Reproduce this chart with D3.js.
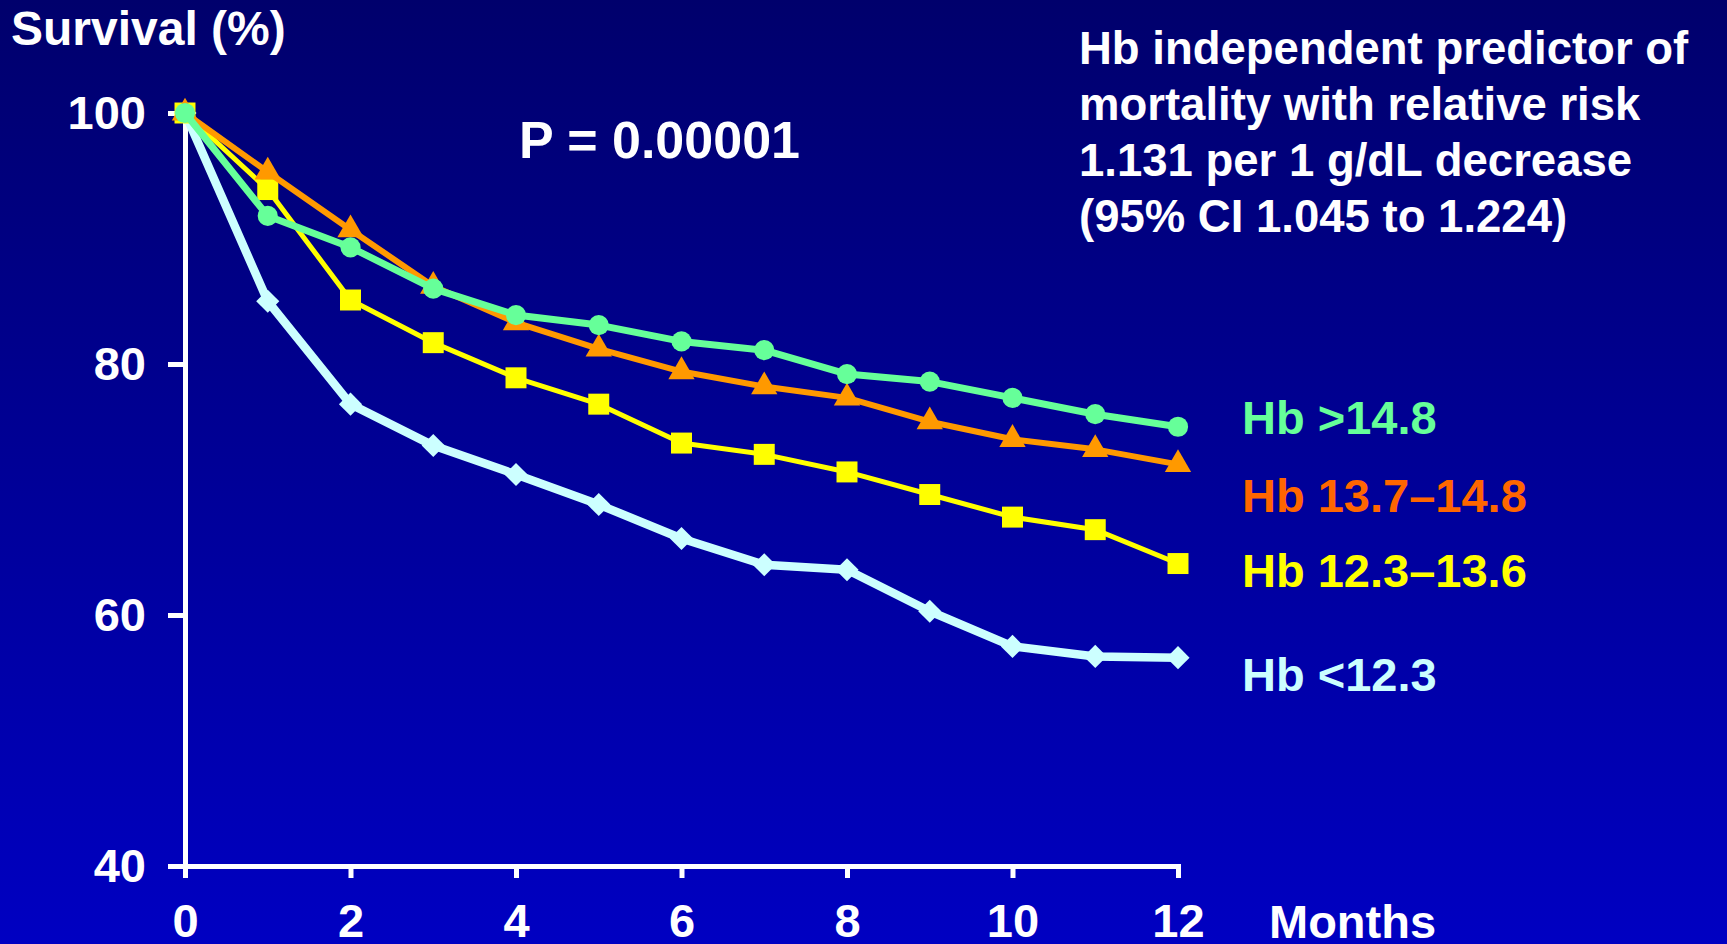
<!DOCTYPE html>
<html>
<head>
<meta charset="utf-8">
<script src="https://cdn.jsdelivr.net/npm/d3@7"></script>
<style>
  body { margin: 0; background: #000080; }
  svg { display: block; }
  text { font-family: "Liberation Sans", Arial, sans-serif; font-weight: bold; }
</style>
</head>
<body>
<div id="chart"></div>
<script>
// data
const months = [0, 1, 2, 3, 4, 5, 6, 7, 8, 9, 10, 11, 12];
const hbHigh = [100, 91.8, 89.3, 86.0, 83.9, 83.1, 81.8, 81.1, 79.2, 78.6, 77.3, 76.0, 75.0];
const hbMidHigh = [100, 95.3, 90.7, 86.2, 83.3, 81.2, 79.4, 78.2, 77.3, 75.4, 74.0, 73.2, 72.0];
const hbMidLow = [100, 93.9, 85.1, 81.7, 78.9, 76.8, 73.7, 72.8, 71.4, 69.6, 67.8, 66.8, 64.1];
const hbLow = [100, 85.0, 76.8, 73.5, 71.2, 68.8, 66.1, 64.0, 63.6, 60.3, 57.5, 56.7, 56.6];
const seriesNames = ["Hb <12.3", "Hb 12.3\u201313.6", "Hb 13.7\u201314.8", "Hb >14.8"];
const yTicks = [40, 60, 80, 100];
const xTicks = [0, 2, 4, 6, 8, 10, 12];
const noteLines = [
    "Hb independent predictor of",
    "mortality with relative risk",
    "1.131 per 1 g/dL decrease",
    "(95% CI 1.045 to 1.224)"
];

const width = 1727, height = 944;
const svg = d3.select("#chart").append("svg")
    .attr("width", width)
    .attr("height", height);

// background gradient
const grad = svg.append("defs").append("linearGradient")
    .attr("id", "bg").attr("x1", 0).attr("y1", 0).attr("x2", 0).attr("y2", 1);
grad.append("stop").attr("offset", "0%").attr("stop-color", "#00006C");
grad.append("stop").attr("offset", "100%").attr("stop-color", "#0000C2");
svg.append("rect").attr("width", width).attr("height", height).attr("fill", "url(#bg)");

const x = d3.scaleLinear().domain([0, 12]).range([185, 1178]);
const y = d3.scaleLinear().domain([40, 100]).range([866, 113]);

// axes
const yAxis = svg.append("g")
    .attr("transform", `translate(${x(0)},0)`)
    .call(d3.axisLeft(y).tickValues(yTicks).tickSize(17).tickSizeOuter(0).tickPadding(22));
const xAxis = svg.append("g")
    .attr("transform", `translate(0,${y(40)})`)
    .call(d3.axisBottom(x).tickValues(xTicks).tickSize(12).tickSizeOuter(0).tickPadding(26));

[yAxis, xAxis].forEach(ax => {
    ax.select(".domain").attr("stroke", "#fff").attr("stroke-width", 5).attr("stroke-linecap", "square");
    ax.selectAll(".tick line").attr("stroke", "#fff").attr("stroke-width", 5);
    ax.selectAll(".tick text")
        .attr("fill", "#fff")
        .style("font-size", "47px")
        .style("font-family", "'Liberation Sans', Arial, sans-serif")
        .style("font-weight", "bold");
});

svg.append("text")
    .attr("x", 11).attr("y", 45)
    .attr("fill", "#fff").style("font-size", "48px")
    .text("Survival (%)");

svg.append("text")
    .attr("x", 1269).attr("y", 938)
    .attr("fill", "#fff").style("font-size", "47px")
    .text("Months");

svg.append("text")
    .attr("x", 519).attr("y", 158)
    .attr("fill", "#fff").style("font-size", "52px")
    .text("P = 0.00001");

svg.append("g").selectAll("text")
    .data(noteLines)
    .enter()
    .append("text")
    .attr("x", 1079)
    .attr("y", (d, i) => 64 + i * 56)
    .attr("fill", "#fff")
    .style("font-size", "45.5px")
    .text(d => d);

// series, drawn bottom to top
const series = [
    { name: seriesNames[0], values: hbLow, line: "#CCFFFF", text: "#CCFFFF", width: 8.5, shape: d3.symbolDiamond2, size: 340, labelY: 691 },
    { name: seriesNames[1], values: hbMidLow, line: "#FFFF00", text: "#FFFF00", width: 5, shape: d3.symbolSquare, size: 440, labelY: 587 },
    { name: seriesNames[2], values: hbMidHigh, line: "#FF9900", text: "#FF6600", width: 6, shape: d3.symbolTriangle, size: 300, labelY: 512 },
    { name: seriesNames[3], values: hbHigh, line: "#66FF99", text: "#66FF99", width: 7, shape: d3.symbolCircle, size: 320, labelY: 434 }
];

series.forEach(s => {
    const g = svg.append("g");
    const line = d3.line()
        .x((d, i) => x(months[i]))
        .y(d => y(d));
    g.append("path")
        .datum(s.values)
        .attr("d", line)
        .attr("fill", "none")
        .attr("stroke", s.line)
        .attr("stroke-width", s.width)
        .attr("stroke-linejoin", "round");
    g.selectAll("path.mark")
        .data(s.values)
        .enter()
        .append("path")
        .attr("class", "mark")
        .attr("d", d3.symbol().type(s.shape).size(s.size))
        .attr("transform", (d, i) => `translate(${x(months[i])},${y(d)})`)
        .attr("fill", s.line);
    svg.append("text")
        .attr("x", 1242).attr("y", s.labelY)
        .attr("fill", s.text)
        .style("font-size", "47px")
        .text(s.name);
});
</script>
</body>
</html>
